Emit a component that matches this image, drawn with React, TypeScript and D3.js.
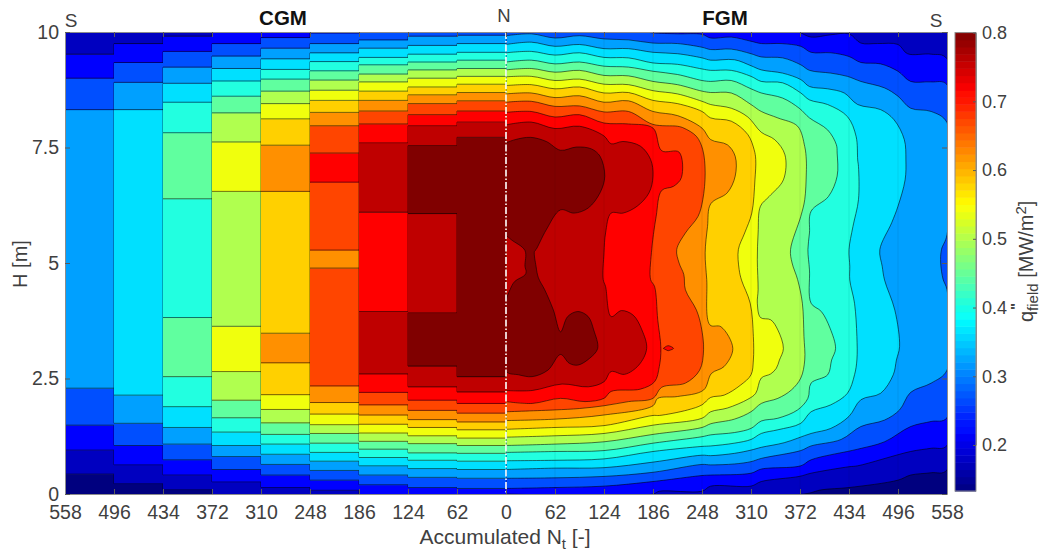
import { useEffect, useRef } from "react";
import * as d3 from "d3";

type Pt = [number, number];

const width = 1046;
const height = 554;
const margin = { top: 32, bottom: 60, left: 65, right: 99 };

// one colour per contour band, lowest to highest
const bandColors = [
  "#00007f", "#0000c0", "#0000ff", "#0050ff", "#00a0ff", "#00e0ff", "#20ffe0", "#60ff9f",
  "#b0ff50", "#f0ff10", "#ffd000", "#ff9000", "#ff4500", "#ff0000", "#bf0000", "#800000",
];

const xTicks = [-558, -496, -434, -372, -310, -248, -186, -124, -62, 0, 62, 124, 186, 248, 310, 372, 434, 496, 558];
const yTicks = [0, 2.5, 5, 7.5, 10];
const cbTicks = [0.2, 0.3, 0.4, 0.5, 0.6, 0.7, 0.8];
const cbRange = [0.133, 0.8];

// CGM side: every column is [band, height where the band stops], bottom to top
const cgm558: Pt[] = [[0, .43], [1, .95], [2, 1.49], [3, 2.29], [4, 8.32], [3, 9.0], [2, 9.52], [1, 10]];
const cgm496: Pt[] = [[0, .22], [1, .63], [2, 1.05], [3, 1.53], [4, 2.14], [5, 8.32], [4, 8.91], [3, 9.34], [2, 9.75], [1, 10]];
const cgm434: Pt[] = [[0, .09], [1, .41], [2, .74], [3, 1.08], [4, 1.44], [5, 1.89], [6, 2.54], [7, 3.82], [6, 6.39], [7, 7.82], [6, 8.48], [5, 8.89], [4, 9.24], [3, 9.58], [2, 9.91], [1, 10]];
const cgm372: Pt[] = [[1, .26], [2, .53], [3, .81], [4, 1.05], [5, 1.34], [6, 1.65], [7, 2.03], [8, 2.65], [9, 3.63], [8, 6.55], [9, 7.62], [8, 8.25], [7, 8.61], [6, 8.94], [5, 9.21], [4, 9.48], [3, 9.75], [2, 10]];
const cgm310: Pt[] = [[1, .14], [2, .41], [3, .64], [4, .86], [5, 1.08], [6, 1.29], [7, 1.54], [8, 1.83], [9, 2.15], [10, 2.84], [11, 3.48], [10, 6.55], [11, 7.55], [10, 8.12], [9, 8.45], [8, 8.72], [7, 8.98], [6, 9.19], [5, 9.42], [4, 9.65], [3, 9.88], [2, 10]];
const cgm248: Pt[] = [[1, .08], [2, .30], [3, .51], [4, .71], [5, .90], [6, 1.10], [7, 1.31], [8, 1.50], [9, 1.73], [10, 1.98], [11, 2.34], [12, 4.89], [11, 5.28], [12, 6.75], [13, 7.38], [12, 7.97], [11, 8.26], [10, 8.52], [9, 8.74], [8, 8.96], [7, 9.16], [6, 9.36], [5, 9.55], [4, 9.75], [3, 9.98], [2, 10]];
const cgm186: Pt[] = [[2, .20], [3, .41], [4, .61], [5, .79], [6, .97], [7, 1.14], [8, 1.32], [9, 1.51], [10, 1.71], [11, 1.93], [12, 2.20], [13, 2.60], [14, 3.95], [13, 6.10], [14, 7.60], [13, 8.01], [12, 8.29], [11, 8.52], [10, 8.72], [9, 8.92], [8, 9.09], [7, 9.29], [6, 9.45], [5, 9.65], [4, 9.83], [3, 10]];
const cgm124: Pt[] = [[2, .14], [3, .36], [4, .55], [5, .73], [6, .89], [7, 1.09], [8, 1.26], [9, 1.44], [10, 1.61], [11, 1.81], [12, 2.03], [13, 2.32], [14, 2.77], [15, 3.92], [14, 6.07], [15, 7.54], [14, 7.97], [13, 8.21], [12, 8.45], [11, 8.64], [10, 8.81], [9, 9.0], [8, 9.18], [7, 9.35], [6, 9.52], [5, 9.71], [4, 9.91], [3, 10]];
const cgm62: Pt[] = [[2, .12], [3, .34], [4, .53], [5, .71], [6, .88], [7, 1.05], [8, 1.21], [9, 1.39], [10, 1.56], [11, 1.75], [12, 1.96], [13, 2.21], [14, 2.54], [15, 7.72], [14, 8.05], [13, 8.29], [12, 8.51], [11, 8.69], [10, 8.87], [9, 9.04], [8, 9.21], [7, 9.39], [6, 9.56], [5, 9.75], [4, 9.93], [3, 10]];
const cgmColumns = [cgm558, cgm496, cgm434, cgm372, cgm310, cgm248, cgm186, cgm124, cgm62];
const cgmLeftEdges = [558, 496, 434, 372, 310, 248, 186, 124, 62];

// FGM side: outline [Nt, H] of the area at or above each band
const fgm1: Pt[] = [[0, 0], [377, 0], [399, .09], [434, .14], [496, .30], [512, .41], [538, .46], [558, .52], [558, 10], [0, 10]];
const fgm2: Pt[] = [[0, 0], [186, 0], [194, .06], [248, .06], [259, .17], [310, .17], [323, .27], [371, .38], [386, .45], [434, .59], [445, .61], [512, .92], [538, .99], [558, 1.05], [558, 9.42], [538, 9.52], [508, 9.53], [496, 9.73], [470, 9.75], [449, 9.76], [434, 9.96], [411, 9.94], [386, 9.89], [372, 9.99], [370, 10], [0, 10]];
const fgm3: Pt[] = [[0, .12], [62, .14], [124, .17], [186, .27], [248, .40], [259, .41], [310, .45], [323, .54], [373, .61], [386, .74], [445, .97], [479, 1.13], [512, 1.46], [538, 1.57], [558, 1.65], [558, 8.86], [538, 8.92], [512, 8.93], [496, 9.15], [474, 9.31], [449, 9.34], [434, 9.47], [411, 9.55], [386, 9.56], [373, 9.69], [348, 9.75], [323, 9.75], [310, 9.80], [285, 9.89], [259, 9.87], [248, 9.95], [217, 9.96], [186, 9.98], [175, 10], [0, 10]];
const fgm4: Pt[] = [[0, .34], [62, .35], [124, .38], [186, .47], [248, .64], [259, .63], [289, .65], [310, .70], [323, .77], [373, .94], [386, 1.04], [424, 1.18], [449, 1.46], [479, 1.60], [498, 1.82], [512, 2.20], [538, 2.40], [558, 2.68], [558, 4.42], [553, 4.65], [550, 5.0], [551, 5.29], [558, 5.61], [558, 8.04], [538, 8.28], [512, 8.35], [496, 8.61], [479, 8.79], [449, 8.93], [432, 9.04], [411, 9.11], [384, 9.17], [373, 9.29], [350, 9.44], [323, 9.46], [310, 9.53], [285, 9.63], [259, 9.62], [248, 9.67], [217, 9.75], [186, 9.76], [155, 9.83], [124, 9.85], [93, 9.92], [62, 9.87], [32, 9.96], [0, 9.92]];
const fgm5: Pt[] = [[0, .53], [62, .56], [124, .57], [186, .69], [248, .84], [259, .83], [289, .88], [310, .95], [323, 1.01], [352, 1.11], [386, 1.31], [411, 1.42], [434, 1.68], [449, 2.04], [474, 2.18], [490, 2.58], [494, 2.90], [498, 3.19], [492, 3.98], [479, 4.63], [476, 4.93], [473, 5.29], [488, 5.87], [496, 6.23], [505, 6.80], [506, 7.23], [504, 7.67], [491, 8.10], [474, 8.32], [445, 8.43], [428, 8.68], [407, 8.77], [384, 8.82], [373, 8.97], [350, 9.11], [323, 9.18], [310, 9.27], [289, 9.40], [259, 9.39], [248, 9.44], [217, 9.53], [186, 9.56], [155, 9.64], [124, 9.64], [93, 9.73], [62, 9.69], [32, 9.78], [0, 9.73]];
const fgm6: Pt[] = [[0, .72], [62, .73], [124, .76], [186, .92], [248, 1.03], [259, 1.04], [289, 1.10], [310, 1.18], [323, 1.31], [344, 1.39], [373, 1.53], [386, 1.78], [411, 1.93], [432, 2.18], [441, 2.58], [444, 2.90], [444, 3.41], [441, 4.13], [435, 4.63], [435, 4.93], [434, 5.29], [439, 5.79], [446, 6.37], [446, 7.09], [445, 7.23], [443, 7.74], [432, 8.17], [407, 8.43], [384, 8.53], [373, 8.68], [350, 8.90], [323, 8.93], [310, 9.04], [285, 9.17], [259, 9.17], [248, 9.20], [217, 9.30], [186, 9.33], [155, 9.44], [124, 9.45], [93, 9.55], [62, 9.50], [32, 9.58], [0, 9.55]];
const fgm7: Pt[] = [[0, .90], [62, .92], [124, .94], [186, 1.10], [248, 1.24], [259, 1.28], [289, 1.33], [310, 1.42], [323, 1.58], [344, 1.64], [369, 1.82], [382, 2.07], [386, 2.40], [407, 2.58], [412, 2.90], [417, 3.15], [410, 3.59], [399, 3.95], [386, 4.13], [384, 4.85], [382, 5.29], [384, 5.65], [386, 6.12], [408, 6.44], [419, 6.88], [419, 7.38], [418, 7.56], [407, 7.88], [384, 8.14], [371, 8.35], [350, 8.57], [323, 8.68], [310, 8.77], [285, 8.95], [259, 8.93], [248, 8.95], [217, 9.08], [186, 9.15], [155, 9.24], [124, 9.26], [93, 9.35], [62, 9.31], [32, 9.39], [0, 9.35]];
const fgm8: Pt[] = [[0, 1.05], [62, 1.08], [124, 1.13], [186, 1.29], [248, 1.44], [259, 1.52], [289, 1.62], [310, 1.78], [323, 1.96], [344, 2.07], [361, 2.25], [373, 2.51], [378, 2.90], [377, 3.41], [375, 4.13], [369, 4.64], [362, 5.0], [360, 5.29], [373, 6.01], [378, 6.37], [380, 6.95], [380, 7.23], [378, 7.52], [369, 7.96], [344, 8.14], [323, 8.28], [310, 8.43], [285, 8.68], [259, 8.69], [248, 8.72], [217, 8.86], [186, 8.93], [155, 9.05], [124, 9.06], [93, 9.17], [62, 9.13], [32, 9.21], [0, 9.18]];
const fgm9: Pt[] = [[0, 1.23], [62, 1.26], [124, 1.31], [186, 1.49], [248, 1.64], [259, 1.78], [280, 1.86], [306, 2.05], [316, 2.18], [323, 2.51], [335, 2.60], [342, 2.72], [346, 2.90], [351, 3.15], [344, 3.55], [335, 3.77], [322, 3.82], [318, 4.13], [319, 4.42], [318, 5.07], [319, 5.65], [322, 6.23], [333, 6.44], [351, 6.80], [353, 7.34], [340, 7.67], [323, 7.83], [306, 8.16], [285, 8.35], [259, 8.43], [248, 8.50], [217, 8.66], [186, 8.73], [155, 8.86], [124, 8.87], [93, 8.98], [62, 8.95], [32, 9.04], [0, 9.03]];
const fgm10: Pt[] = [[0, 1.40], [62, 1.44], [124, 1.48], [186, 1.70], [194, 1.70], [230, 1.82], [248, 1.93], [259, 2.09], [276, 2.14], [297, 2.36], [310, 2.58], [313, 2.90], [313, 3.41], [309, 4.13], [298, 4.63], [295, 4.86], [294, 5.29], [302, 5.65], [311, 6.08], [315, 6.80], [316, 7.24], [314, 7.45], [306, 7.78], [285, 8.07], [259, 8.14], [248, 8.28], [217, 8.45], [186, 8.52], [155, 8.69], [124, 8.68], [93, 8.81], [62, 8.77], [32, 8.86], [0, 8.84]];
const fgm11: Pt[] = [[0, 1.59], [62, 1.62], [124, 1.71], [186, 1.91], [192, 2.07], [217, 2.11], [250, 2.25], [260, 2.61], [276, 2.76], [287, 3.15], [272, 3.62], [258, 3.66], [254, 4.64], [252, 5.22], [255, 5.79], [259, 6.28], [280, 6.52], [290, 6.88], [290, 7.31], [280, 7.56], [259, 7.67], [248, 7.92], [217, 8.19], [186, 8.28], [155, 8.51], [124, 8.48], [93, 8.62], [62, 8.58], [32, 8.68], [0, 8.66]];
const fgm12: Pt[] = [[0, 1.78], [62, 1.82], [93, 1.85], [124, 1.91], [155, 2.0], [186, 2.07], [197, 2.31], [227, 2.40], [245, 2.68], [250, 3.12], [247, 3.62], [241, 3.98], [227, 4.42], [225, 4.75], [219, 5.0], [216, 5.29], [227, 5.65], [243, 6.01], [249, 6.37], [252, 6.95], [249, 7.45], [241, 7.74], [225, 7.92], [217, 7.96], [186, 8.0], [155, 8.28], [124, 8.27], [93, 8.40], [62, 8.39], [32, 8.50], [0, 8.48]];
const fgm13: Pt[] = [[0, 2.0], [33, 1.96], [69, 2.07], [100, 2.0], [124, 2.07], [133, 2.22], [170, 2.27], [188, 2.43], [194, 2.76], [196, 3.15], [192, 3.77], [188, 4.49], [183, 4.64], [184, 5.22], [190, 6.01], [197, 6.57], [212, 6.66], [222, 6.85], [219, 7.40], [197, 7.43], [186, 7.92], [155, 8.01], [124, 8.03], [93, 8.21], [62, 8.16], [32, 8.28], [0, 8.26]];
const fgm13Spot: Pt[] = [[199, 3.15], [205, 3.21], [212, 3.15], [205, 3.10]];
const fgm14: Pt[] = [[0, 2.24], [33, 2.24], [71, 2.38], [104, 2.32], [124, 2.43], [133, 2.65], [150, 2.59], [168, 2.79], [178, 3.15], [172, 3.55], [161, 3.87], [146, 3.97], [133, 3.84], [126, 4.49], [123, 4.64], [124, 5.22], [126, 5.65], [133, 6.08], [148, 6.08], [166, 6.23], [181, 6.52], [186, 6.88], [183, 7.24], [170, 7.53], [148, 7.63], [133, 7.58], [124, 7.75], [93, 7.96], [62, 7.91], [32, 8.05], [0, 7.99]];
const fgm15: Pt[] = [[0, 7.60], [11.5, 7.67], [31, 7.72], [51, 7.63], [69, 7.44], [89, 7.51], [108, 7.47], [119, 7.31], [125, 6.88], [119, 6.52], [104, 6.19], [86, 6.08], [69, 6.15], [51, 5.72], [38, 5.29], [36, 5.25], [38, 4.93], [41, 4.68], [49, 4.42], [60, 3.98], [69, 3.51], [78, 3.84], [91, 3.95], [104, 3.84], [111, 3.55], [116, 3.15], [106, 2.94], [91, 2.79], [80, 2.83], [69, 3.02], [53, 2.68], [33, 2.54], [16, 2.58], [0, 2.66], [0, 4.16], [5, 4.42], [11, 4.60], [24, 4.74], [25.5, 4.81], [24, 4.93], [24, 5.27], [7, 5.50], [0, 5.60]];
const fgmLevels = [fgm1, fgm2, fgm3, fgm4, fgm5, fgm6, fgm7, fgm8, fgm9, fgm10, fgm11, fgm12, fgm13, fgm14, fgm15];

const jet = (t: number) => {
  const c = (o: number) => Math.round(255 * Math.max(0, Math.min(1, 1.5 - Math.abs(4 * t - o))));
  return `rgb(${c(3)},${c(2)},${c(1)})`;
};

const x = d3.scaleLinear().domain([-558, 558]).range([margin.left, width - margin.right]);
const y = d3.scaleLinear().domain([0, 10]).range([height - margin.bottom, margin.top]);
const cbY = d3.scaleLinear().domain([0.2, 0.8]).range([445, 32.6]);

const outline = d3.line<Pt>().x((d) => x(d[0])).y((d) => y(d[1])).curve(d3.curveCatmullRom.alpha(0.5));
const lineColor = "rgba(0,0,0,0.62)";
const textColor = "#404040";
const font = "'Liberation Sans', Arial, sans-serif";

// turns a column into segments with bottom and top
const segments = (col: Pt[]) => col.map((d, i) => ({ band: d[0], lo: i ? col[i - 1][1] : 0, hi: d[1] }));
const bandAt = (col: Pt[], h: number) => segments(col).find((s) => h >= s.lo && h < s.hi)!.band;

// the vertical pieces of contour line where two CGM columns disagree
const stepLines = (a: Pt[], b: Pt[]) => {
  const edges = Array.from(new Set([0, ...a.map((d) => d[1]), ...b.map((d) => d[1])])).sort((p, q) => p - q);
  return d3.pairs(edges).filter(([lo, hi]) => bandAt(a, (lo + hi) / 2) !== bandAt(b, (lo + hi) / 2));
};

const App = () => {
  const xAxisRef = useRef<SVGGElement>(null);
  const xTopRef = useRef<SVGGElement>(null);
  const yAxisRef = useRef<SVGGElement>(null);
  const yRightRef = useRef<SVGGElement>(null);
  const cbAxisRef = useRef<SVGGElement>(null);

  useEffect(() => {
    const style = (sel: any, size = 19.5) => {
      sel.selectAll("text").attr("font-size", size).attr("font-family", font).attr("fill", textColor);
      sel.selectAll("line").attr("stroke", "#5a5a5a");
      sel.select(".domain").attr("stroke", "#8c8c8c");
    };
    d3.select(xAxisRef.current).call(
      d3.axisBottom(x).tickValues(xTicks).tickSizeInner(-5).tickSizeOuter(0).tickPadding(11)
        .tickFormat((d) => String(Math.abs(+d))) as any
    ).call(style);
    d3.select(xTopRef.current).call(
      d3.axisTop(x).tickValues(xTicks).tickSizeInner(-5).tickSizeOuter(0).tickFormat(() => "") as any
    ).call(style);
    d3.select(yAxisRef.current).call(
      d3.axisLeft(y).tickValues(yTicks).tickSizeInner(-5).tickSizeOuter(0).tickPadding(6)
        .tickFormat((d) => String(d)) as any
    ).call(style);
    d3.select(yRightRef.current).call(
      d3.axisRight(y).tickValues(yTicks).tickSizeInner(-5).tickSizeOuter(0).tickFormat(() => "") as any
    ).call(style);
    d3.select(cbAxisRef.current).call(
      d3.axisRight(cbY).tickValues(cbTicks).tickSizeInner(-3).tickSizeOuter(0).tickPadding(6)
        .tickFormat(d3.format(".1f") as any) as any
    ).call(style, 18);
  }, []);

  const cbStep = (cbRange[1] - cbRange[0]) / 64;
  const plotW = width - margin.left - margin.right;
  const plotH = height - margin.top - margin.bottom;

  return (
    <svg width={width} height={height} viewBox={`0 0 ${width} ${height}`}
      style={{ position: "absolute", left: 0, top: 0, background: "#fff" }}>
      <defs>
        <clipPath id="plot-clip">
          <rect x={margin.left} y={margin.top} width={plotW} height={plotH} />
        </clipPath>
        <clipPath id="fgm-clip">
          <rect x={x(0) + 0.6} y={margin.top} width={x(558) - x(0)} height={plotH} />
        </clipPath>
        <filter id="soft" x="0" y="0" width="100%" height="100%">
          <feGaussianBlur stdDeviation="0.45" />
        </filter>
      </defs>

      <g clipPath="url(#plot-clip)">
        <g filter="url(#soft)">
          {/* CGM side, one block of bands per fuel column */}
          {cgmColumns.map((col, i) => (
            <g key={i}>
              {segments(col).map((s, j) => (
                <rect key={j} x={x(-cgmLeftEdges[i])} width={x(-cgmLeftEdges[i] + 62) - x(-cgmLeftEdges[i]) + 0.5}
                  y={y(s.hi)} height={y(s.lo) - y(s.hi) + 0.5} fill={bandColors[s.band]} />
              ))}
              {col.slice(0, -1).map((d, j) => (
                <line key={j} x1={x(-cgmLeftEdges[i])} x2={x(-cgmLeftEdges[i] + 62)} y1={y(d[1])} y2={y(d[1])}
                  stroke={lineColor} strokeWidth={0.9} />
              ))}
              {i < cgmColumns.length - 1 && stepLines(col, cgmColumns[i + 1]).map(([lo, hi], j) => (
                <line key={j} x1={x(-cgmLeftEdges[i] + 62)} x2={x(-cgmLeftEdges[i] + 62)} y1={y(lo)} y2={y(hi)}
                  stroke={lineColor} strokeWidth={0.9} />
              ))}
            </g>
          ))}

          {/* FGM side, filled contours painted from the lowest band up */}
          <g clipPath="url(#fgm-clip)">
            <rect x={x(0)} y={margin.top} width={x(558) - x(0)} height={plotH} fill={bandColors[0]} />
            {fgmLevels.map((pts, i) => (
              <path key={i} d={outline(pts) + "Z"} fill={bandColors[i + 1]} stroke={lineColor} strokeWidth={0.9} />
            ))}
            <path d={outline(fgm13Spot) + "Z"} fill={bandColors[13]} stroke={lineColor} strokeWidth={0.9} />
            {xTicks.filter((t) => t > 0 && t < 558).map((t) => (
              <line key={t} x1={x(t)} x2={x(t)} y1={margin.top} y2={height - margin.bottom}
                stroke="rgba(0,0,0,0.07)" />
            ))}
          </g>
        </g>
        <line x1={x(0)} x2={x(0)} y1={margin.top} y2={height - margin.bottom}
          stroke="#fff" strokeWidth={1.6} strokeDasharray="7 2 1.5 2" />
      </g>

      <g ref={xAxisRef} transform={`translate(0,${height - margin.bottom})`} />
      <g ref={xTopRef} transform={`translate(0,${margin.top})`} />
      <g ref={yAxisRef} transform={`translate(${margin.left},0)`} />
      <g ref={yRightRef} transform={`translate(${width - margin.right},0)`} />

      {/* colour bar */}
      <g filter="url(#soft)">
        {d3.range(64).map((i) => {
          const lo = cbRange[0] + i * cbStep;
          return (
            <rect key={i} x={955} width={21} y={cbY(lo + cbStep)} height={cbY(lo) - cbY(lo + cbStep) + 0.5}
              fill={jet((i + 0.5) / 64)} />
          );
        })}
      </g>
      <rect x={955} width={21} y={cbY(cbRange[1])} height={cbY(cbRange[0]) - cbY(cbRange[1])}
        fill="none" stroke="#8c8c8c" />
      <g ref={cbAxisRef} transform="translate(976,0)" />

      <g fontFamily={font} fontSize={20} fill={textColor}>
        <text x={71} y={27} textAnchor="middle" fontSize={19}>S</text>
        <text x={504} y={22} textAnchor="middle" fontSize={18.5}>N</text>
        <text x={936} y={27} textAnchor="middle" fontSize={19}>S</text>
        <text x={505} y={544} textAnchor="middle" fontSize={21}>
          Accumulated N<tspan dy={5} fontSize={15}>t</tspan><tspan dy={-5}> [-]</tspan>
        </text>
        <text transform="translate(27,264) rotate(-90)" textAnchor="middle">H [m]</text>
        <text transform="translate(1033,322) rotate(-90)">
          q<tspan dy={5} fontSize={15}>field</tspan><tspan dy={-5}> [MW/m</tspan><tspan dy={-7} fontSize={15}>2</tspan><tspan dy={7}>]</tspan>
        </text>
        <text transform="translate(1021,310) rotate(-90)" fontSize={15} fontWeight="bold">"</text>
      </g>
      <g fontFamily={font} fontSize={20.5} fontWeight="bold" fill="#111">
        <text x={283} y={25} textAnchor="middle">CGM</text>
        <text x={725} y={25} textAnchor="middle">FGM</text>
      </g>
    </svg>
  );
};

export default App;
